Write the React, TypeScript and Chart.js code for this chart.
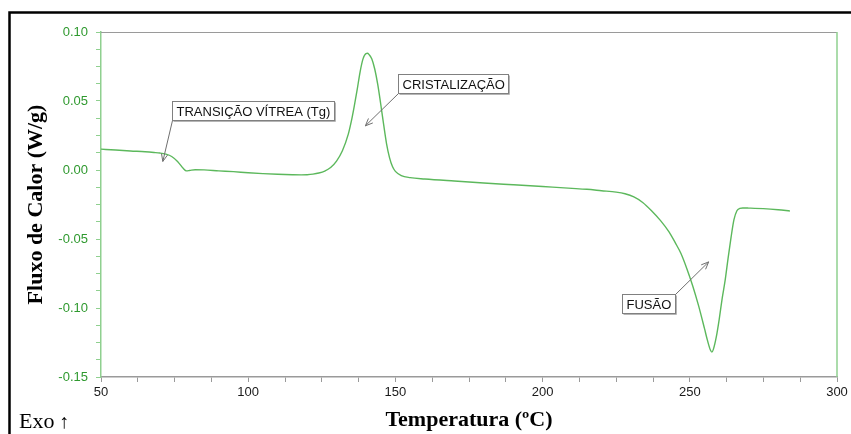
import React, { useEffect, useRef } from "react";
import { Chart, registerables } from "chart.js";

Chart.register(...registerables);

// Temperature (°C)
const temperatures = [
  50, 55, 60, 65, 68, 70, 72, 74, 76, 78, 79, 80, 82, 85, 90, 95, 100, 105, 110, 115, 118, 120, 122, 124, 126, 128,
  130, 132, 134, 135, 136, 137, 138, 139, 140, 140.5, 141, 142, 143, 144, 145, 146, 147, 148, 149, 150, 152, 155, 160,
  170, 180, 190, 200, 210, 215, 220, 225, 228, 231, 234, 237, 240, 243, 245, 247, 249, 251, 253, 255, 256, 257, 257.5,
  258, 259, 260, 261, 262, 263, 264, 265, 266, 267, 268, 270, 275, 280, 284,
];
// Heat flow (W/g)
const heatFlow = [
  0.0151, 0.0145, 0.0138, 0.0132, 0.0127, 0.0123, 0.0115, 0.0098, 0.0062, 0.001, -0.0006, -0.0004, 0.0002, 0.0001,
  -0.0006, -0.0012, -0.002, -0.0026, -0.0031, -0.0034, -0.0035, -0.0034, -0.003, -0.0022, -0.0008, 0.0018, 0.0065,
  0.014, 0.026, 0.035, 0.046, 0.058, 0.071, 0.0805, 0.0844, 0.0846, 0.0838, 0.0805, 0.073, 0.062, 0.048, 0.033, 0.019,
  0.009, 0.0025, -0.001, -0.004, -0.0055, -0.0065, -0.008, -0.0094, -0.0107, -0.012, -0.0133, -0.014, -0.015, -0.016,
  -0.0172, -0.0195, -0.0235, -0.0295, -0.0365, -0.045, -0.0525, -0.0605, -0.0715, -0.084, -0.0985, -0.115, -0.1235,
  -0.1305, -0.132, -0.13, -0.121, -0.108, -0.093, -0.08, -0.064, -0.049, -0.036, -0.0295, -0.0278, -0.0275, -0.0276,
  -0.028, -0.0288, -0.0297,
];

// Annotations: label text, box corner (data coords), arrow tip (data coords)
const annotationTexts = ["TRANSIÇÃO VÍTREA (Tg)", "CRISTALIZAÇÃO", "FUSÃO"];
const annotationBoxT = [74.0, 150.9, 227.1];
const annotationBoxV = [0.0497, 0.0696, -0.09];
const annotationTipT = [71.0, 139.8, 256.4];
const annotationTipV = [0.0062, 0.032, -0.0666];
const annotationAnchor = ["bl", "bl", "tr"];

const xTickMin = 50;
const xTickMax = 300;
const yTickMin = -0.15;
const yTickMax = 0.1;

const serif = '"Liberation Serif", "Times New Roman", serif';
const sans = '"Liberation Sans", Arial, sans-serif';

export default function App() {
  const ref = useRef<HTMLCanvasElement | null>(null);

  useEffect(() => {
    const canvas = ref.current;
    if (!canvas) return;

    const decor = {
      id: "decor",
      afterDraw(chart: any) {
        const { ctx, chartArea, scales } = chart;
        const xs = scales.x;
        const ys = scales.y;
        ctx.save();
        // plot frame top / right
        ctx.lineWidth = 1;
        ctx.strokeStyle = "#9a9a9a";
        ctx.beginPath();
        ctx.moveTo(chartArea.left, chartArea.top + 0.5);
        ctx.lineTo(chartArea.right, chartArea.top + 0.5);
        ctx.stroke();
        ctx.strokeStyle = "#8fd08f";
        ctx.lineWidth = 1.5;
        ctx.beginPath();
        ctx.moveTo(chartArea.right, chartArea.top);
        ctx.lineTo(chartArea.right, chartArea.bottom);
        ctx.stroke();

        // outer black frame
        ctx.strokeStyle = "#000";
        ctx.lineWidth = 2.5;
        ctx.beginPath();
        ctx.moveTo(9.5, 434);
        ctx.lineTo(9.5, 12.5);
        ctx.lineTo(851, 12.5);
        ctx.stroke();

        // Exo label
        ctx.fillStyle = "#000";
        ctx.font = `22px ${serif}`;
        ctx.textBaseline = "alphabetic";
        ctx.textAlign = "left";
        ctx.fillText("Exo", 19, 428);
        ctx.font = `20px ${serif}`;
        ctx.fillText("↑", 59, 428);

        // annotations
        ctx.font = `13px ${sans}`;
        for (let i = 0; i < annotationTexts.length; i++) {
          const text = annotationTexts[i];
          const bx = Math.round(xs.getPixelForValue(annotationBoxT[i])) + 0.5;
          const by = Math.round(ys.getPixelForValue(annotationBoxV[i])) + 0.5;
          const tw = ctx.measureText(text).width;
          const bw = Math.round(tw + 8);
          const bh = 19;
          const tx = xs.getPixelForValue(annotationTipT[i]);
          const ty = ys.getPixelForValue(annotationTipV[i]);
          let sx = bx;
          let sy = by + bh;
          if (annotationAnchor[i] === "tr") {
            sx = bx + bw;
            sy = by;
          }
          // arrow line
          ctx.strokeStyle = "#6f6f6f";
          ctx.lineWidth = 1;
          ctx.beginPath();
          ctx.moveTo(sx, sy);
          ctx.lineTo(tx, ty);
          ctx.stroke();
          const ang = Math.atan2(ty - sy, tx - sx);
          const hl = 8;
          const ha = 0.4;
          ctx.beginPath();
          ctx.moveTo(tx - hl * Math.cos(ang - ha), ty - hl * Math.sin(ang - ha));
          ctx.lineTo(tx, ty);
          ctx.lineTo(tx - hl * Math.cos(ang + ha), ty - hl * Math.sin(ang + ha));
          ctx.stroke();
          // box
          ctx.fillStyle = "#ffffff";
          ctx.fillRect(bx, by, bw, bh);
          ctx.strokeStyle = "#808080";
          ctx.strokeRect(bx, by, bw, bh);
          ctx.strokeStyle = "#b5b5b5";
          ctx.beginPath();
          ctx.moveTo(bx + 1, by + bh + 1);
          ctx.lineTo(bx + bw + 1, by + bh + 1);
          ctx.lineTo(bx + bw + 1, by + 1);
          ctx.stroke();
          ctx.fillStyle = "#111";
          ctx.textBaseline = "middle";
          ctx.textAlign = "left";
          ctx.fillText(text, bx + 4, by + bh / 2 + 1);
        }
        ctx.restore();
      },
    };

    const chart = new Chart(canvas, {
      type: "line",
      data: {
        datasets: [
          {
            data: temperatures.map((t, i) => ({ x: t, y: heatFlow[i] })),
            borderColor: "#5cb85c",
            borderWidth: 1.4,
            pointRadius: 0,
            fill: false,
            cubicInterpolationMode: "monotone",
          },
        ],
      },
      options: {
        responsive: false,
        animation: false,
        devicePixelRatio: 1,
        layout: { padding: { left: 0, top: 32, right: 14, bottom: 0 } },
        plugins: { legend: { display: false }, tooltip: { enabled: false }, title: { display: false } },
        scales: {
          x: {
            type: "linear",
            min: xTickMin,
            max: xTickMax,
            afterFit: (s: any) => {
              s.height = 57;
            },
            ticks: {
              stepSize: 12.5,
              autoSkip: false,
              maxRotation: 0,
              padding: 3,
              color: "#1a1a1a",
              font: { family: sans, size: 13 },
              callback: (v: any) => {
                const n = Number(v);
                return Math.abs(n / 50 - Math.round(n / 50)) < 1e-6 ? String(Math.round(n)) : "";
              },
            },
            grid: { drawOnChartArea: false, drawTicks: true, tickLength: 5, color: "#9a9a9a" },
            border: { color: "#9a9a9a", width: 1.5 },
            title: {
              display: true,
              text: "Temperatura (ºC)",
              color: "#000",
              font: { family: serif, size: 22, weight: "bold" },
              padding: { top: 0, bottom: 0 },
            },
          },
          y: {
            type: "linear",
            min: yTickMin,
            max: yTickMax,
            afterFit: (s: any) => {
              s.width = 101;
            },
            ticks: {
              stepSize: 0.0125,
              autoSkip: false,
              padding: 8,
              color: "#2f992f",
              font: { family: sans, size: 13 },
              callback: (v: any) => {
                const n = Number(v);
                return Math.abs(n * 20 - Math.round(n * 20)) < 1e-6 ? (Math.round(n * 20) / 20).toFixed(2) : "";
              },
            },
            grid: { drawOnChartArea: false, drawTicks: true, tickLength: 5, color: "#8fd08f" },
            border: { color: "#8fd08f", width: 1.5 },
            title: {
              display: true,
              text: "Fluxo de Calor (W/g)",
              color: "#000",
              font: { family: serif, size: 22, weight: "bold" },
              padding: { top: 23, bottom: 0 },
            },
          },
        },
      },
      plugins: [decor],
    });
    return () => chart.destroy();
  }, []);

  return (
    <div style={{ position: "absolute", left: 0, top: 0, width: 851, height: 434, background: "#fff" }}>
      <canvas ref={ref} width={851} height={434} style={{ display: "block" }} />
    </div>
  );
}
